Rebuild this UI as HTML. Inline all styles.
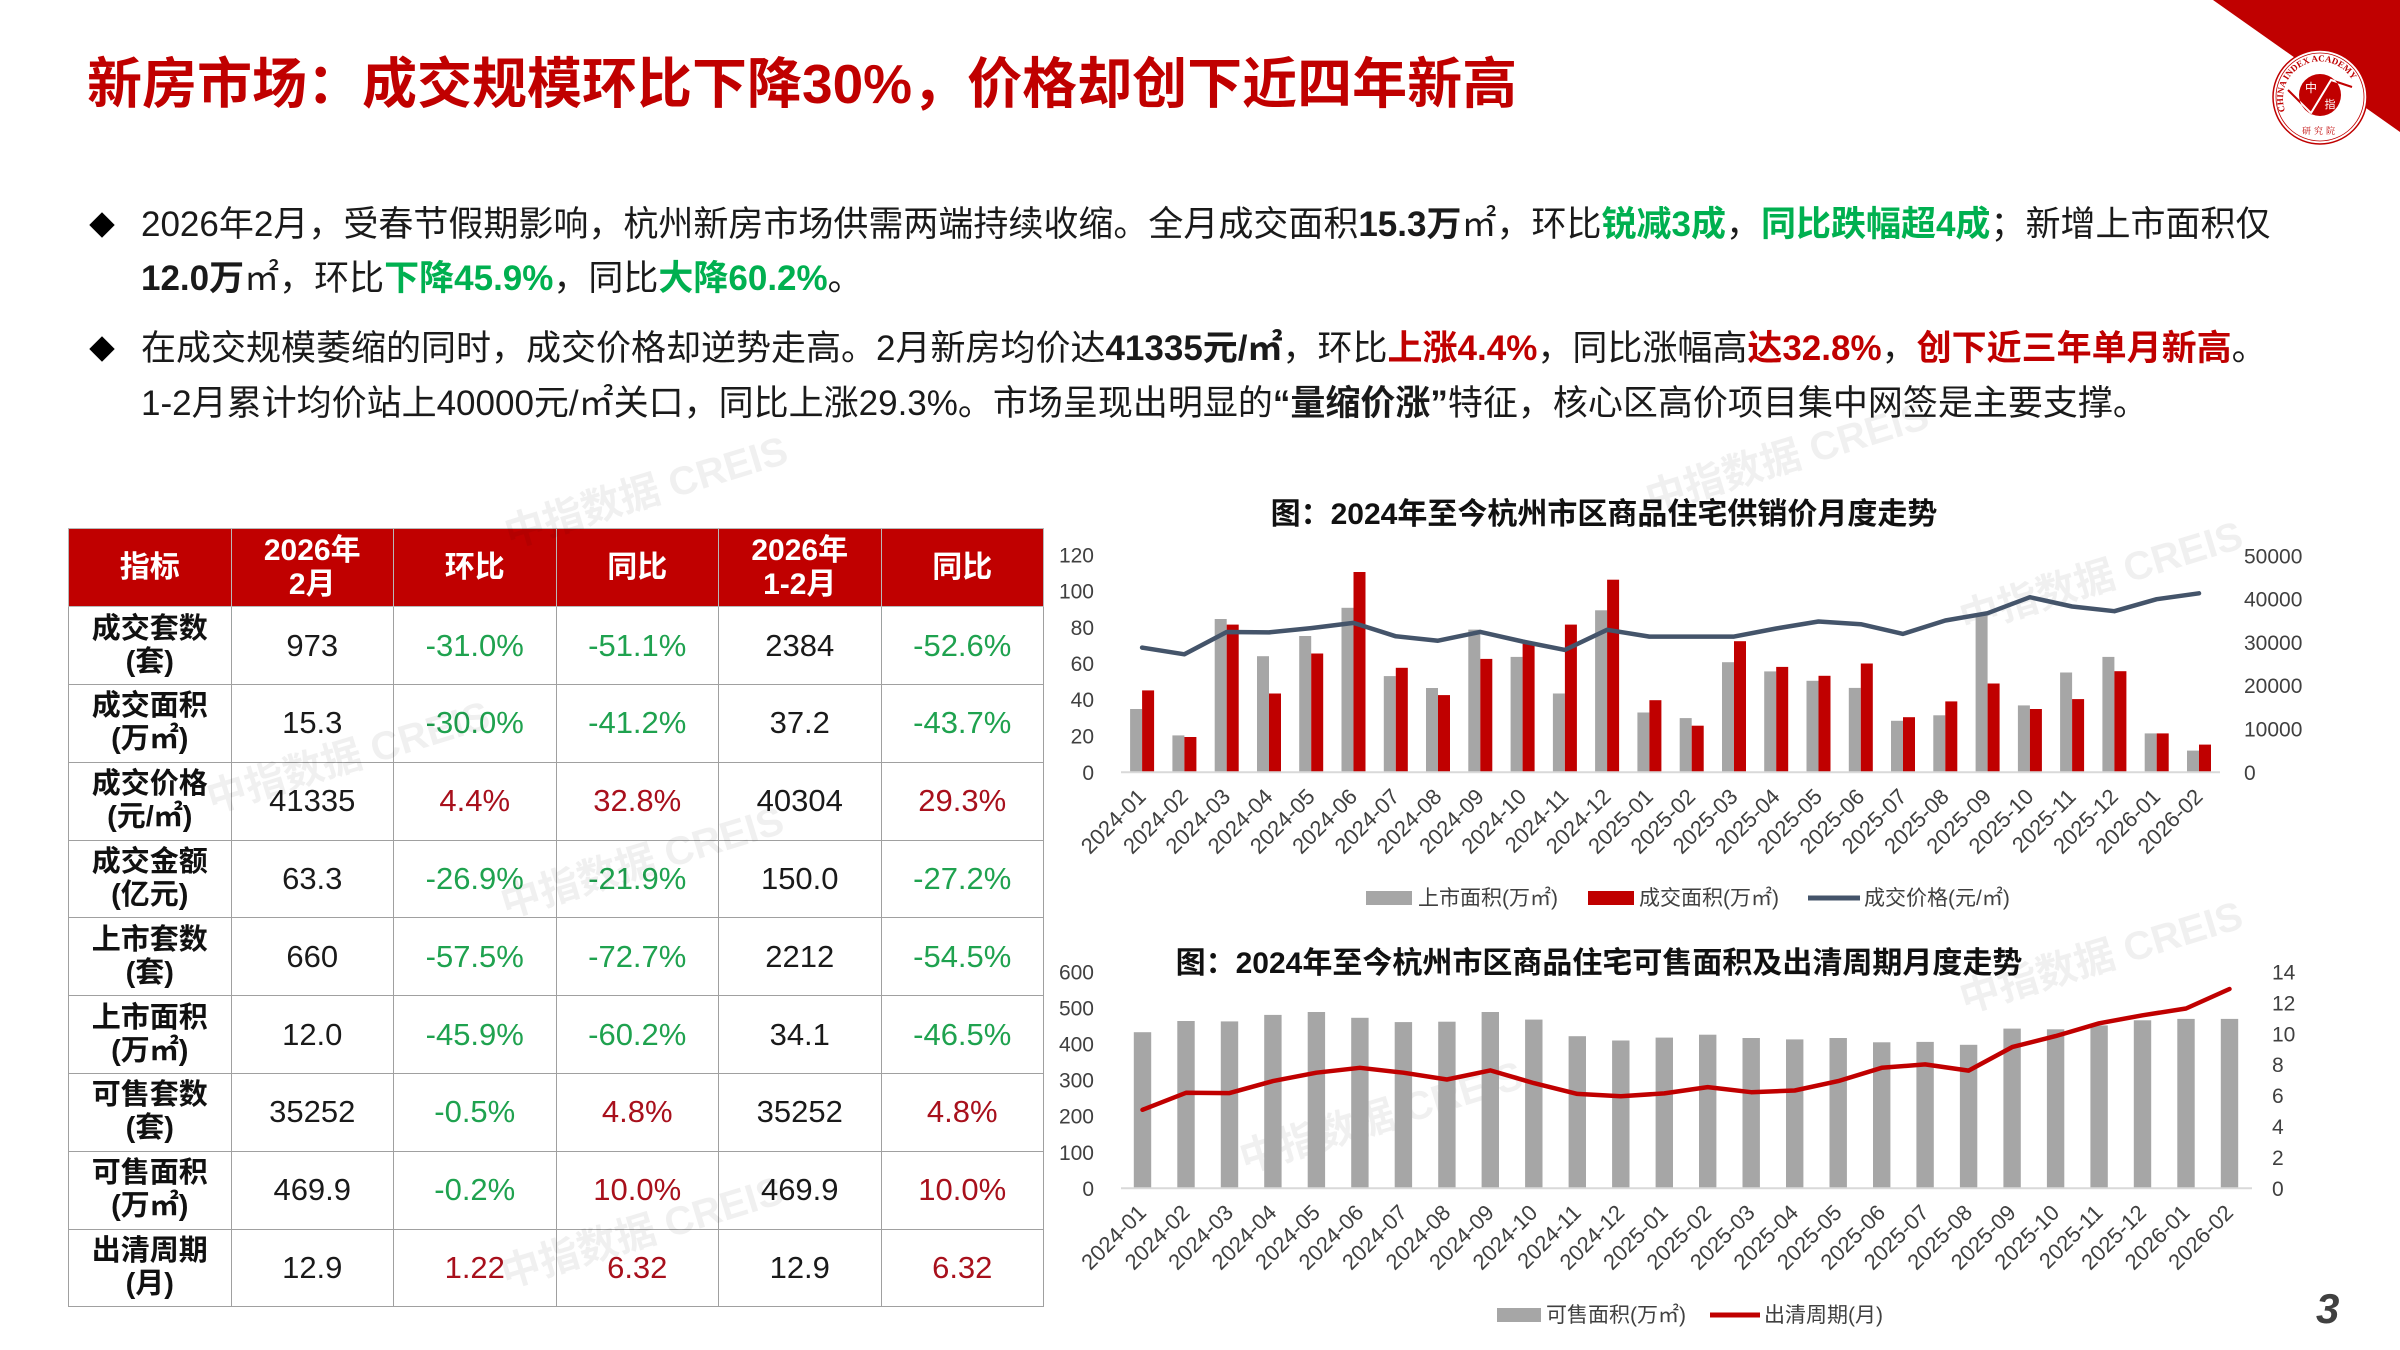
<!DOCTYPE html>
<html>
<head>
<meta charset="utf-8">
<style>
html,body{margin:0;padding:0;background:#fff;}
body{width:2400px;height:1350px;position:relative;overflow:hidden;font-family:"Liberation Sans","Noto Sans CJK SC",sans-serif;color:#1a1a1a;}
.title{position:absolute;left:87px;top:54px;font-size:55px;line-height:60px;font-weight:bold;color:#C00000;white-space:nowrap;}
.ln{position:absolute;left:141px;font-size:35px;line-height:54px;white-space:nowrap;color:#1a1a1a;}
.g{color:#00B050;font-weight:bold;}
.r{color:#C00000;font-weight:bold;}
.b{font-weight:bold;}
.dia{position:absolute;width:18px;height:18px;background:#000;transform:rotate(45deg);}
table.t{position:absolute;left:68px;top:528px;width:975px;border-collapse:collapse;table-layout:fixed;}
table.t td{border:1.5px solid #A0A0A0;text-align:center;vertical-align:middle;padding:0;font-size:31px;height:76.8px;color:#1a1a1a;}
table.t tr.h td{background:#C00000;color:#fff;font-weight:bold;height:77.2px;line-height:34px;font-size:30px;border-color:#B8B8B8;}
table.t td.k{font-weight:bold;font-size:29px;line-height:33px;color:#111;}
table.t td.gn{color:#1FA24F;}
table.t td.rd{color:#A8101C;}
svg{position:absolute;left:0;top:0;}
</style>
</head>
<body>

<div class="title">新房市场：成交规模环比下降30%，价格却创下近四年新高</div>

<div class="dia" style="left:93px;top:216px;"></div>
<div class="ln" style="top:198px;">2026年2月，受春节假期影响，杭州新房市场供需两端持续收缩。全月成交面积<span class="b">15.3万</span>㎡，环比<span class="g">锐减3成</span>，<span class="g">同比跌幅超4成</span>；新增上市面积仅</div>
<div class="ln" style="top:252px;"><span class="b">12.0万</span>㎡，环比<span class="g">下降45.9%</span>，同比<span class="g">大降60.2%</span>。</div>

<div class="dia" style="left:93px;top:340px;"></div>
<div class="ln" style="top:322px;">在成交规模萎缩的同时，成交价格却逆势走高。2月新房均价达<span class="b">41335元/㎡</span>，环比<span class="r">上涨4.4%</span>，同比涨幅高<span class="r">达32.8%</span>，<span class="r">创下近三年单月新高</span>。</div>
<div class="ln" style="top:377px;">1-2月累计均价站上40000元/㎡关口，同比上涨29.3%。市场呈现出明显的<span class="b">“量缩价涨”</span>特征，核心区高价项目集中网签是主要支撑。</div>

<table class="t">
<colgroup><col style="width:162.5px"><col style="width:162.5px"><col style="width:162.5px"><col style="width:162.5px"><col style="width:162.5px"><col style="width:162.5px"></colgroup>
<tr class="h"><td>指标</td><td>2026年<br>2月</td><td>环比</td><td>同比</td><td>2026年<br>1-2月</td><td>同比</td></tr>
<tr><td class="k">成交套数<br>(套)</td><td>973</td><td class="gn">-31.0%</td><td class="gn">-51.1%</td><td>2384</td><td class="gn">-52.6%</td></tr>
<tr><td class="k">成交面积<br>(万㎡)</td><td>15.3</td><td class="gn">-30.0%</td><td class="gn">-41.2%</td><td>37.2</td><td class="gn">-43.7%</td></tr>
<tr><td class="k">成交价格<br>(元/㎡)</td><td>41335</td><td class="rd">4.4%</td><td class="rd">32.8%</td><td>40304</td><td class="rd">29.3%</td></tr>
<tr><td class="k">成交金额<br>(亿元)</td><td>63.3</td><td class="gn">-26.9%</td><td class="gn">-21.9%</td><td>150.0</td><td class="gn">-27.2%</td></tr>
<tr><td class="k">上市套数<br>(套)</td><td>660</td><td class="gn">-57.5%</td><td class="gn">-72.7%</td><td>2212</td><td class="gn">-54.5%</td></tr>
<tr><td class="k">上市面积<br>(万㎡)</td><td>12.0</td><td class="gn">-45.9%</td><td class="gn">-60.2%</td><td>34.1</td><td class="gn">-46.5%</td></tr>
<tr><td class="k">可售套数<br>(套)</td><td>35252</td><td class="gn">-0.5%</td><td class="rd">4.8%</td><td>35252</td><td class="rd">4.8%</td></tr>
<tr><td class="k">可售面积<br>(万㎡)</td><td>469.9</td><td class="gn">-0.2%</td><td class="rd">10.0%</td><td>469.9</td><td class="rd">10.0%</td></tr>
<tr><td class="k">出清周期<br>(月)</td><td>12.9</td><td class="rd">1.22</td><td class="rd">6.32</td><td>12.9</td><td class="rd">6.32</td></tr>
</table>

<svg width="2400" height="1350" viewBox="0 0 2400 1350" xmlns="http://www.w3.org/2000/svg" font-family="Liberation Sans, Noto Sans CJK SC, sans-serif">
<!-- watermarks -->
<g fill="#000" fill-opacity="0.06" font-weight="bold" font-size="40" text-anchor="middle">
<text transform="translate(650,505) rotate(-17)">中指数据 CREIS</text>
<text transform="translate(1791,470) rotate(-17)">中指数据 CREIS</text>
<text transform="translate(352,770) rotate(-17)">中指数据 CREIS</text>
<text transform="translate(646,875) rotate(-17)">中指数据 CREIS</text>
<text transform="translate(646,1245) rotate(-17)">中指数据 CREIS</text>
<text transform="translate(2105,590) rotate(-17)">中指数据 CREIS</text>
<text transform="translate(2105,970) rotate(-17)">中指数据 CREIS</text>
<text transform="translate(1385,1130) rotate(-17)">中指数据 CREIS</text>
</g>

<!-- logo -->
<polygon points="2213,0 2400,0 2400,132" fill="#C00000"/>
<circle cx="2320" cy="97" r="47" fill="#fff" stroke="#C00000" stroke-width="1.5"/>
<circle cx="2320" cy="97" r="44" fill="none" stroke="#C00000" stroke-width="0.8"/>
<defs>
<path id="arc" d="M 2286 113 A 37 37 0 1 1 2354 113"/>
<clipPath id="disc"><circle cx="2320" cy="95" r="21"/></clipPath>
</defs>
<text font-family="Liberation Serif, serif" font-size="9" font-weight="bold" fill="#C00000"><textPath href="#arc" startOffset="2">CHINA INDEX ACADEMY</textPath></text>
<polyline points="2288,90 2311,113 2331,80 2352,87" fill="none" stroke="#C00000" stroke-width="2"/>
<circle cx="2320" cy="95" r="21" fill="#C00000"/>
<polyline points="2288,90 2311,113 2331,80 2352,87" fill="none" stroke="#fff" stroke-width="2" clip-path="url(#disc)"/>
<text x="2311" y="92" font-size="12" fill="#fff" text-anchor="middle" font-family="Noto Sans CJK SC, sans-serif">中</text>
<text x="2330" y="108" font-size="11" fill="#fff" text-anchor="middle" font-family="Noto Sans CJK SC, sans-serif">指</text>
<text x="2320" y="134" font-size="9" fill="#C00000" text-anchor="middle" font-family="Noto Serif CJK SC, serif" letter-spacing="3">研究院</text>

<!-- ===== Chart 1 ===== -->
<text x="1604" y="524" font-size="30" font-weight="bold" fill="#111" text-anchor="middle">图：2024年至今杭州市区商品住宅供销价月度走势</text>
<g font-size="21" fill="#404040" text-anchor="end">
<text x="1094" y="562.5">120</text>
<text x="1094" y="598.7">100</text>
<text x="1094" y="634.9">80</text>
<text x="1094" y="671">60</text>
<text x="1094" y="707.2">40</text>
<text x="1094" y="743.4">20</text>
<text x="1094" y="779.8">0</text>
</g>
<g font-size="21" fill="#404040">
<text x="2244" y="563.3">50000</text>
<text x="2244" y="606.6">40000</text>
<text x="2244" y="649.9">30000</text>
<text x="2244" y="693.2">20000</text>
<text x="2244" y="736.5">10000</text>
<text x="2244" y="779.8">0</text>
</g>
<g transform="translate(0,772.3) scale(1,-1)" fill="#A6A6A6">
<rect x="1130.1" y="0" width="12" height="63.3"/>
<rect x="1172.4" y="0" width="12" height="36.9"/>
<rect x="1214.7" y="0" width="12" height="153.3"/>
<rect x="1257.0" y="0" width="12" height="116.1"/>
<rect x="1299.2" y="0" width="12" height="136.3"/>
<rect x="1341.5" y="0" width="12" height="164.5"/>
<rect x="1383.8" y="0" width="12" height="96.2"/>
<rect x="1426.0" y="0" width="12" height="84.3"/>
<rect x="1468.3" y="0" width="12" height="142.7"/>
<rect x="1510.6" y="0" width="12" height="115.4"/>
<rect x="1552.9" y="0" width="12" height="78.8"/>
<rect x="1595.1" y="0" width="12" height="162.0"/>
<rect x="1637.4" y="0" width="12" height="59.8"/>
<rect x="1679.7" y="0" width="12" height="54.2"/>
<rect x="1722.0" y="0" width="12" height="110.1"/>
<rect x="1764.2" y="0" width="12" height="100.9"/>
<rect x="1806.5" y="0" width="12" height="91.5"/>
<rect x="1848.8" y="0" width="12" height="84.4"/>
<rect x="1891.0" y="0" width="12" height="51.5"/>
<rect x="1933.3" y="0" width="12" height="57.0"/>
<rect x="1975.6" y="0" width="12" height="158.7"/>
<rect x="2017.9" y="0" width="12" height="66.9"/>
<rect x="2060.1" y="0" width="12" height="99.8"/>
<rect x="2102.4" y="0" width="12" height="115.4"/>
<rect x="2144.7" y="0" width="12" height="38.9"/>
<rect x="2187.0" y="0" width="12" height="21.7"/>
</g>
<g transform="translate(0,772.3) scale(1,-1)" fill="#C00000">
<rect x="1142.1" y="0" width="12" height="81.9"/>
<rect x="1184.4" y="0" width="12" height="35.3"/>
<rect x="1226.7" y="0" width="12" height="147.7"/>
<rect x="1269.0" y="0" width="12" height="78.8"/>
<rect x="1311.2" y="0" width="12" height="118.8"/>
<rect x="1353.5" y="0" width="12" height="200.3"/>
<rect x="1395.8" y="0" width="12" height="104.5"/>
<rect x="1438.0" y="0" width="12" height="77.2"/>
<rect x="1480.3" y="0" width="12" height="113.4"/>
<rect x="1522.6" y="0" width="12" height="128.7"/>
<rect x="1564.9" y="0" width="12" height="147.7"/>
<rect x="1607.1" y="0" width="12" height="192.6"/>
<rect x="1649.4" y="0" width="12" height="72.1"/>
<rect x="1691.7" y="0" width="12" height="46.6"/>
<rect x="1734.0" y="0" width="12" height="131.1"/>
<rect x="1776.2" y="0" width="12" height="105.4"/>
<rect x="1818.5" y="0" width="12" height="96.5"/>
<rect x="1860.8" y="0" width="12" height="108.8"/>
<rect x="1903.0" y="0" width="12" height="55.1"/>
<rect x="1945.3" y="0" width="12" height="70.9"/>
<rect x="1987.6" y="0" width="12" height="88.8"/>
<rect x="2029.9" y="0" width="12" height="63.3"/>
<rect x="2072.1" y="0" width="12" height="73.2"/>
<rect x="2114.4" y="0" width="12" height="101.1"/>
<rect x="2156.7" y="0" width="12" height="38.9"/>
<rect x="2199.0" y="0" width="12" height="27.7"/>
</g>
<line x1="1121" y1="772.3" x2="2220" y2="772.3" stroke="#D9D9D9" stroke-width="2"/>
<polyline fill="none" stroke="#44546A" stroke-width="4.5" stroke-linejoin="round" stroke-linecap="round" points="1142.1,647.6 1184.4,654.3 1226.7,632.0 1269.0,632.4 1311.2,628.1 1353.5,622.9 1395.8,636.3 1438.0,640.7 1480.3,631.9 1522.6,641.5 1564.9,649.9 1607.1,629.8 1649.4,636.6 1691.7,636.6 1734.0,636.6 1776.2,628.5 1818.5,621.5 1860.8,624.2 1903.0,633.9 1945.3,620.5 1987.6,613.2 2029.9,597.2 2072.1,606.5 2114.4,611.2 2156.7,599.2 2199.0,593.3"/>
<g font-size="22" fill="#404040" text-anchor="end">
<text transform="translate(1147.1,798) rotate(-45)">2024-01</text>
<text transform="translate(1189.4,798) rotate(-45)">2024-02</text>
<text transform="translate(1231.7,798) rotate(-45)">2024-03</text>
<text transform="translate(1274.0,798) rotate(-45)">2024-04</text>
<text transform="translate(1316.2,798) rotate(-45)">2024-05</text>
<text transform="translate(1358.5,798) rotate(-45)">2024-06</text>
<text transform="translate(1400.8,798) rotate(-45)">2024-07</text>
<text transform="translate(1443.0,798) rotate(-45)">2024-08</text>
<text transform="translate(1485.3,798) rotate(-45)">2024-09</text>
<text transform="translate(1527.6,798) rotate(-45)">2024-10</text>
<text transform="translate(1569.9,798) rotate(-45)">2024-11</text>
<text transform="translate(1612.1,798) rotate(-45)">2024-12</text>
<text transform="translate(1654.4,798) rotate(-45)">2025-01</text>
<text transform="translate(1696.7,798) rotate(-45)">2025-02</text>
<text transform="translate(1739.0,798) rotate(-45)">2025-03</text>
<text transform="translate(1781.2,798) rotate(-45)">2025-04</text>
<text transform="translate(1823.5,798) rotate(-45)">2025-05</text>
<text transform="translate(1865.8,798) rotate(-45)">2025-06</text>
<text transform="translate(1908.0,798) rotate(-45)">2025-07</text>
<text transform="translate(1950.3,798) rotate(-45)">2025-08</text>
<text transform="translate(1992.6,798) rotate(-45)">2025-09</text>
<text transform="translate(2034.9,798) rotate(-45)">2025-10</text>
<text transform="translate(2077.1,798) rotate(-45)">2025-11</text>
<text transform="translate(2119.4,798) rotate(-45)">2025-12</text>
<text transform="translate(2161.7,798) rotate(-45)">2026-01</text>
<text transform="translate(2204.0,798) rotate(-45)">2026-02</text>
</g>
<rect x="1366" y="891" width="46" height="14" fill="#A6A6A6"/>
<text x="1418" y="905" font-size="21" fill="#404040">上市面积(万㎡)</text>
<rect x="1588" y="891" width="46" height="14" fill="#C00000"/>
<text x="1639" y="905" font-size="21" fill="#404040">成交面积(万㎡)</text>
<line x1="1808" y1="898" x2="1860" y2="898" stroke="#44546A" stroke-width="5"/>
<text x="1864" y="905" font-size="21" fill="#404040">成交价格(元/㎡)</text>

<!-- ===== Chart 2 ===== -->
<text x="1599" y="973" font-size="30" font-weight="bold" fill="#111" text-anchor="middle">图：2024年至今杭州市区商品住宅可售面积及出清周期月度走势</text>
<g font-size="21" fill="#404040" text-anchor="end">
<text x="1094" y="979.5">600</text>
<text x="1094" y="1015.5">500</text>
<text x="1094" y="1051.6">400</text>
<text x="1094" y="1087.7">300</text>
<text x="1094" y="1123.7">200</text>
<text x="1094" y="1159.8">100</text>
<text x="1094" y="1195.8">0</text>
</g>
<g font-size="21" fill="#404040">
<text x="2272" y="979.5">14</text>
<text x="2272" y="1010.4">12</text>
<text x="2272" y="1041.3">10</text>
<text x="2272" y="1072.2">8</text>
<text x="2272" y="1103.1">6</text>
<text x="2272" y="1134">4</text>
<text x="2272" y="1164.9">2</text>
<text x="2272" y="1195.8">0</text>
</g>
<g transform="translate(0,1188.3) scale(1,-1)" fill="#A6A6A6">
<rect x="1133.8" y="0" width="17.4" height="156.1"/>
<rect x="1177.3" y="0" width="17.4" height="167.3"/>
<rect x="1220.8" y="0" width="17.4" height="166.9"/>
<rect x="1264.2" y="0" width="17.4" height="173.4"/>
<rect x="1307.7" y="0" width="17.4" height="176.3"/>
<rect x="1351.2" y="0" width="17.4" height="170.5"/>
<rect x="1394.7" y="0" width="17.4" height="166.2"/>
<rect x="1438.2" y="0" width="17.4" height="166.6"/>
<rect x="1481.6" y="0" width="17.4" height="176.3"/>
<rect x="1525.1" y="0" width="17.4" height="168.7"/>
<rect x="1568.6" y="0" width="17.4" height="152.1"/>
<rect x="1612.1" y="0" width="17.4" height="147.8"/>
<rect x="1655.6" y="0" width="17.4" height="150.7"/>
<rect x="1699.0" y="0" width="17.4" height="153.6"/>
<rect x="1742.5" y="0" width="17.4" height="150.3"/>
<rect x="1786.0" y="0" width="17.4" height="148.9"/>
<rect x="1829.5" y="0" width="17.4" height="150.3"/>
<rect x="1873.0" y="0" width="17.4" height="146.0"/>
<rect x="1916.4" y="0" width="17.4" height="146.4"/>
<rect x="1959.9" y="0" width="17.4" height="143.5"/>
<rect x="2003.4" y="0" width="17.4" height="159.7"/>
<rect x="2046.9" y="0" width="17.4" height="159.0"/>
<rect x="2090.4" y="0" width="17.4" height="162.9"/>
<rect x="2133.8" y="0" width="17.4" height="168.0"/>
<rect x="2177.3" y="0" width="17.4" height="169.4"/>
<rect x="2220.8" y="0" width="17.4" height="169.4"/>
</g>
<line x1="1121" y1="1188.3" x2="2252" y2="1188.3" stroke="#D9D9D9" stroke-width="2"/>
<polyline fill="none" stroke="#C00000" stroke-width="4.5" stroke-linejoin="round" stroke-linecap="round" points="1142.5,1109.8 1186.0,1092.8 1229.5,1093.1 1272.9,1081.1 1316.4,1072.7 1359.9,1067.8 1403.4,1072.7 1446.9,1079.5 1490.3,1070.4 1533.8,1083.1 1577.3,1093.9 1620.8,1096.2 1664.3,1093.4 1707.7,1087.1 1751.2,1092.2 1794.7,1090.5 1838.2,1081.1 1881.7,1067.8 1925.1,1064.4 1968.6,1070.6 2012.1,1047.1 2055.6,1036.1 2099.1,1023.3 2142.5,1015.3 2186.0,1008.5 2229.5,989.0"/>
<g font-size="22" fill="#404040" text-anchor="end">
<text transform="translate(1147.5,1214) rotate(-45)">2024-01</text>
<text transform="translate(1191.0,1214) rotate(-45)">2024-02</text>
<text transform="translate(1234.5,1214) rotate(-45)">2024-03</text>
<text transform="translate(1277.9,1214) rotate(-45)">2024-04</text>
<text transform="translate(1321.4,1214) rotate(-45)">2024-05</text>
<text transform="translate(1364.9,1214) rotate(-45)">2024-06</text>
<text transform="translate(1408.4,1214) rotate(-45)">2024-07</text>
<text transform="translate(1451.9,1214) rotate(-45)">2024-08</text>
<text transform="translate(1495.3,1214) rotate(-45)">2024-09</text>
<text transform="translate(1538.8,1214) rotate(-45)">2024-10</text>
<text transform="translate(1582.3,1214) rotate(-45)">2024-11</text>
<text transform="translate(1625.8,1214) rotate(-45)">2024-12</text>
<text transform="translate(1669.3,1214) rotate(-45)">2025-01</text>
<text transform="translate(1712.7,1214) rotate(-45)">2025-02</text>
<text transform="translate(1756.2,1214) rotate(-45)">2025-03</text>
<text transform="translate(1799.7,1214) rotate(-45)">2025-04</text>
<text transform="translate(1843.2,1214) rotate(-45)">2025-05</text>
<text transform="translate(1886.7,1214) rotate(-45)">2025-06</text>
<text transform="translate(1930.1,1214) rotate(-45)">2025-07</text>
<text transform="translate(1973.6,1214) rotate(-45)">2025-08</text>
<text transform="translate(2017.1,1214) rotate(-45)">2025-09</text>
<text transform="translate(2060.6,1214) rotate(-45)">2025-10</text>
<text transform="translate(2104.1,1214) rotate(-45)">2025-11</text>
<text transform="translate(2147.5,1214) rotate(-45)">2025-12</text>
<text transform="translate(2191.0,1214) rotate(-45)">2026-01</text>
<text transform="translate(2234.5,1214) rotate(-45)">2026-02</text>
</g>
<rect x="1497" y="1308" width="44" height="14" fill="#A6A6A6"/>
<text x="1546" y="1322" font-size="21" fill="#404040">可售面积(万㎡)</text>
<line x1="1710" y1="1315" x2="1760" y2="1315" stroke="#C00000" stroke-width="5"/>
<text x="1764" y="1322" font-size="21" fill="#404040">出清周期(月)</text>

<!-- page number -->
<text x="2316" y="1323" font-size="42" font-weight="bold" font-style="italic" fill="#404040">3</text>
</svg>

</body>
</html>
